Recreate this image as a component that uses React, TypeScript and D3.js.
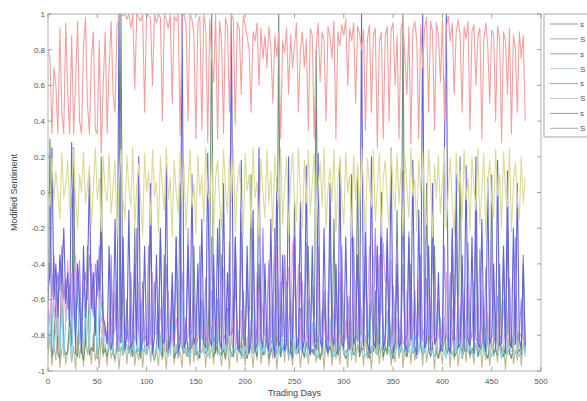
import * as d3 from 'd3'

// one value every 2 trading days, day 0 .. 484
const DAY_STEP = 2

const sentRed = [
  .80,.75,.33,.70,.60,.33,.92,.45,.33,.95,
  .55,.33,.88,.33,.62,.96,.40,.33,.82,.98,
  .50,.33,.75,.90,.35,.33,.85,.22,.60,.90,
  .33,.70,.96,.55,.45,.93,.98,1,.99,1,
  .97,1,.92,1,.58,1,.98,.96,1,.45,
  1,.99,.97,.60,1,.95,1,.98,.40,1,
  .97,.92,1,.50,.99,.96,1,.32,.98,1,
  .93,.40,1,.97,.88,.30,.95,.99,.35,1,
  .92,.28,.97,.75,.62,1,.30,.96,.85,.33,
  .98,.93,.45,1,.97,.38,.95,.92,.55,.99,
  .94,.87,.80,.45,.90,.85,.95,.60,.92,.75,
  .88,.70,.93,.82,.50,.88,.76,.90,.30,.85,
  .78,.92,.55,.88,.70,.82,.95,.45,.80,.90,
  .70,.86,.35,.92,.88,.30,.82,.95,.62,.90,
  .85,.40,.93,.88,.75,.96,.30,.90,.82,.94,
  .88,.97,.60,.92,.85,.95,.50,.93,.89,.80,
  .91,.35,.86,.94,.45,.88,.92,.25,.84,.90,
  .30,.87,.93,.40,.91,.95,.60,.88,.30,.92,
  .98,.75,.55,.93,.27,.90,.96,.85,.30,.94,
  .70,.92,.98,.45,.96,.90,.35,.95,.88,.62,
  .97,.40,.92,.99,.85,.95,.55,.90,.97,.88,
  .45,.93,.86,.96,.35,.90,.94,.60,.88,.92,
  .30,.85,.95,.82,.50,.91,.88,.40,.93,.86,
  .28,.90,.85,.55,.92,.33,.88,.80,.45,.90,
  .75,.88,.40
]

const sentYellow = [
  .02,-.08,.20,-.04,.12,.00,-.15,.22,-.03,.05,
  .18,-.10,.02,.24,-.05,-.20,.10,.00,.23,-.06,
  .04,.15,-.18,.02,.25,-.04,.08,-.22,.20,.01,
  -.05,.22,-.12,.03,.18,-.25,.06,.24,-.03,-.15,
  .21,.02,-.08,.25,-.20,.04,.16,-.05,-.24,.22,
  .00,.12,-.18,.24,-.02,.06,-.22,.20,.03,-.10,
  .25,-.04,.08,-.25,.18,.00,-.12,.23,-.06,.15,
  -.20,.02,.24,-.08,.05,-.23,.21,-.02,.10,-.17,
  .25,.00,-.06,.22,-.25,.08,.18,-.04,-.20,.24,
  .02,-.12,.20,-.05,.25,-.22,.04,.16,-.08,-.24,
  .22,.01,.10,-.20,.25,-.03,.06,-.25,.19,.00,
  -.14,.24,-.06,.12,-.22,.21,.02,-.09,.25,-.18,
  .04,.20,-.24,.06,.23,-.04,-.16,.25,.00,-.20,
  .18,-.06,.24,-.12,.05,.22,-.25,.03,.17,-.08,
  .25,-.20,.02,.14,-.05,.24,-.22,.06,.20,-.03,
  -.18,.23,.00,.10,-.25,.21,-.04,.16,-.12,.25,
  .02,-.22,.19,.05,-.08,.24,-.16,.03,.22,-.25,
  .08,.18,-.04,-.20,.25,.01,-.10,.22,-.06,.14,
  -.24,.20,.03,-.14,.25,-.02,.07,-.22,.18,.00,
  .23,-.08,-.18,.24,.04,-.25,.16,-.03,.21,-.12,
  .05,.25,-.20,.02,.19,-.06,-.24,.22,.00,.12,
  -.16,.24,-.04,.08,-.22,.20,.03,-.10,.25,-.18,
  .01,.22,-.25,.06,.18,-.05,-.14,.24,-.02,.10,
  -.20,.23,.00,-.08,.25,-.22,.05,.17,-.04,-.15,
  .20,-.06,.08
]

const sentBlue = [
  -.55,-.45,.25,-.60,-.40,-.70,-.35,-.50,-.20,-.62,
  -.45,-.75,.28,-.55,-.85,-.40,-.60,-.90,-.30,-.70,
  -.50,.10,-.65,-.45,-.80,-.38,-.55,-.20,-.70,-.75,
  -.85,-.30,-.88,-.82,-.15,-.86,1,-.84,-.25,-.88,
  -.80,-.10,-.87,-.83,-.40,-.85,.20,-.89,-.82,-.30,
  -.86,-.84,.05,-.90,-.81,-.35,-.87,-.20,-.85,-.83,
  .15,-.88,-.82,-.45,-.86,-.25,-.90,-.84,1,-.87,
  -.83,-.30,-.88,.10,-.85,-.80,-.40,-.89,-.15,-.84,
  -.87,.22,-.82,-.86,-.35,-.90,-.20,-.83,-.88,.05,
  -.85,-.45,-.80,1,-.87,-.25,-.84,-.89,.18,-.82,
  -.86,-.30,-.90,-.83,-.10,-.88,-.85,.25,-.81,-.87,
  -.40,-.84,-.89,-.15,-.82,-.92,.08,-.86,-.83,-.35,
  -.88,-.85,.20,-.90,-.80,-.25,-.87,-.84,-.05,-.89,
  -.82,.15,-.86,-.91,-.30,-.84,-.88,.22,-.83,-.87,
  -.20,-.85,-.89,.05,-.82,-.86,-.40,-.90,.18,-.84,
  -.87,-.25,-.83,-.88,.10,-.85,-.81,-.35,-.89,1,
  -.86,-.15,-.84,-.90,.20,-.83,-.87,-.30,-.85,.00,
  -.88,-.82,-.20,-.86,.25,-.90,-.84,-.40,-.87,-.83,
  .12,-.85,-.89,-.25,-.82,.18,-.86,-.91,-.10,-.84,
  1,-.87,-.83,-.30,-.88,.05,-.85,-.82,-.45,-.89,
  -.84,.22,1,-.86,-.90,-.20,-.83,.10,-.87,-.85,
  -.35,-.88,.15,-.82,-.86,-.25,-.90,.20,-.84,-.87,
  -.15,-.83,-.89,.08,-.85,-.81,-.40,-.88,.18,-.86,
  -.84,-.30,-.90,.12,-.83,-.87,-.20,-.85,.05,-.82,
  -.88,-.40,-.86
]

const sentPurple = [
  -.50,-.40,-.58,-.35,-.62,-.45,-.55,-.30,-.60,-.48,
  -.65,-.52,-.70,-.42,-.75,-.58,-.38,-.80,-.55,-.45,
  -.60,-.35,-.52,-.68,-.40,-.58,-.30,-.62,-.72,-.80,
  -.78,-.85,-.35,-.80,-.76,-.50,-.83,-.79,-.25,-.81,
  -.77,-.84,-.45,-.79,-.82,-.20,-.78,-.85,-.55,-.80,
  -.83,-.30,-.79,-.86,-.50,-.77,-.82,-.22,-.80,-.84,
  -.40,-.78,-.85,-.60,-.81,-.25,-.79,-.83,-.45,-.77,
  -.84,-.20,-.80,-.78,-.55,-.86,-.82,-.30,-.79,-.85,
  -.48,-.81,-.77,-.25,-.84,-.80,-.60,-.78,-.35,-.83,
  -.79,-.86,-.28,-.80,-.75,-.50,-.82,-.85,-.22,-.78,
  -.81,-.45,-.84,-.79,-.30,-.86,-.76,-.55,-.83,-.20,
  -.80,-.78,-.40,-.85,-.82,-.25,-.79,-.87,-.50,-.81,
  -.35,-.83,-.78,-.60,-.84,-.22,-.80,-.86,-.45,-.79,
  -.82,-.28,-.85,-.77,-.52,-.81,-.84,-.30,-.78,-.86,
  -.55,-.80,-.83,-.20,-.79,-.85,-.42,-.82,-.77,-.30,
  -.84,-.81,-.58,-.78,-.86,-.25,-.80,-.83,-.48,-.79,
  -.85,-.32,-.82,-.78,-.60,-.84,-.20,-.81,-.86,-.45,
  -.79,-.83,-.28,-.80,-.85,-.52,-.78,-.30,-.84,-.81,
  -.40,-.86,-.79,-.22,-.83,-.80,-.55,-.85,-.78,-.35,
  -.82,-.84,-.48,-.79,-.86,-.25,-.81,-.83,-.60,-.78,
  -.85,-.30,-.80,-.84,-.45,-.79,-.86,-.20,-.82,-.78,
  -.55,-.83,-.80,-.28,-.85,-.79,-.50,-.82,-.84,-.32,
  -.78,-.86,-.42,-.81,-.83,-.22,-.80,-.85,-.58,-.79,
  -.84,-.35,-.82,-.78,-.48,-.86,-.80,-.25,-.83,-.79,
  -.60,-.82,-.85
]

const sentCyan = [
  -.70,-.85,-.60,-.90,-.75,-.55,-.88,-.65,-.92,-.72,
  -.58,-.80,-.95,-.62,-.78,-.50,-.85,-.68,-.90,-.60,
  -.75,-.88,-.55,-.70,-.65,-.92,-.60,-.72,-.68,-.85,
  -.90,-.86,-.70,-.89,-.92,-.84,-.88,-.65,-.91,-.87,
  -.85,-.90,-.88,-.70,-.92,-.86,-.89,-.62,-.90,-.87,
  -.91,-.84,-.72,-.89,-.93,-.86,-.88,-.90,-.66,-.87,
  -.89,-.92,-.85,-.74,-.90,-.88,-.91,-.86,-.60,-.89,
  -.87,-.90,-.93,-.70,-.88,-.85,-.91,-.89,-.64,-.90,
  -.86,-.92,-.88,-.75,-.90,-.87,-.62,-.91,-.89,-.85,
  -.90,-.68,-.88,-.92,-.86,-.89,-.72,-.90,-.87,-.93,
  -.85,-.91,-.66,-.88,-.90,-.86,-.89,-.70,-.92,-.87,
  -.89,-.85,-.90,-.64,-.88,-.93,-.86,-.91,-.74,-.88,
  -.90,-.87,-.92,-.86,-.68,-.89,-.91,-.85,-.88,-.62,
  -.88,-.92,-.86,-.90,-.73,-.87,-.89,-.93,-.85,-.66,
  -.91,-.88,-.86,-.70,-.90,-.92,-.87,-.89,-.64,-.86,
  -.90,-.88,-.93,-.85,-.72,-.89,-.91,-.86,-.88,-.68,
  -.87,-.92,-.89,-.63,-.90,-.86,-.88,-.91,-.75,-.87,
  -.89,-.85,-.66,-.90,-.93,-.87,-.88,-.70,-.91,-.86,
  -.88,-.92,-.86,-.89,-.62,-.90,-.87,-.93,-.85,-.72,
  -.91,-.88,-.86,-.68,-.90,-.89,-.92,-.87,-.64,-.88,
  -.86,-.90,-.93,-.74,-.88,-.91,-.85,-.89,-.66,-.87,
  -.92,-.88,-.70,-.90,-.86,-.89,-.93,-.62,-.87,-.91,
  -.88,-.85,-.90,-.72,-.89,-.92,-.86,-.68,-.90,-.87,
  -.93,-.88,-.64,-.91,-.86,-.89,-.90,-.75,-.87,-.92,
  -.88,-.70,-.90
]

const sentGreen = [
  -.88,.30,-.92,-.85,-.60,-.90,-.93,-.40,-.87,-.91,
  -.89,-.70,-.86,.25,-.90,-.92,-.55,-.88,-.94,-.85,
  -.30,-.91,-.87,-.89,-.65,-.93,-.86,.20,-.90,-.88,
  -.92,-.87,-.45,-.90,-.93,-.86,-.89,1,-.91,-.88,
  -.60,-.90,-.86,-.92,-.20,-.89,-.87,-.93,-.50,-.88,
  -.91,-.86,-.10,-.90,-.94,-.87,-.65,-.89,-.92,-.35,
  -.88,-.90,-.86,-.55,-.93,-.89,-.91,.05,-.87,-.90,
  -.70,-.92,-.88,-.86,-.30,-.91,-.89,-.93,-.60,-.87,
  -.90,-.88,-.45,1,-.92,-.86,-.89,-.15,-.91,-.88,
  -.93,-.65,-.87,-.90,-.92,-.25,-.88,-.86,-.91,-.55,
  -.89,-.93,-.87,.10,-.90,-.88,-.92,-.40,-.86,-.91,
  -.88,-.70,-.93,-.89,-.87,-.20,-.90,1,-.92,-.86,
  -.89,-.50,-.91,-.88,-.93,-.05,-.87,-.90,-.65,-.89,
  -.92,-.86,-.30,-.90,-.88,-.91,.80,-.87,-.93,-.89,
  -.60,-.88,-.90,-.86,-.92,-.15,-.89,-.91,-.87,-.45,
  -.90,-.93,-.88,-.70,-.86,-.91,-.89,.15,-.92,-.87,
  -.88,-.35,-.90,-.93,-.86,-.89,-.55,-.91,-.88,-.20,
  -.92,-.87,-.90,-.65,-.89,-.93,-.86,-.10,-.91,-.88,
  1,-.89,-.92,-.87,-.40,-.90,-.88,-.93,-.60,-.86,
  -.91,-.89,.05,-.88,-.92,-.87,-.30,-.90,-.93,-.86,
  -.89,-.70,-.91,-.88,-.87,-.25,-.92,-.90,-.86,.20,
  -.93,-.88,-.89,-.50,-.91,-.87,-.90,-.15,-.92,-.88,
  -.86,-.65,-.89,-.93,-.87,.10,-.90,-.88,-.91,-.40,
  -.88,-.92,-.86,-.20,-.89,-.93,-.87,-.60,-.90,-.88,
  -.91,-.35,-.89
]

const sentOlive = [
  -.92,-.80,-.97,-.85,-.94,-.75,-.98,-.88,-.82,-.96,
  -.90,-.78,-.95,-.86,-.99,-.80,-.93,-.84,-.97,-.76,
  -.91,-.83,-.96,-.79,-.94,-.87,-.98,-.81,-.92,-.85,
  -.97,-.77,-.93,-.88,-.95,-.82,-.99,-.86,-.91,-.79,
  -.96,-.84,-.92,-.78,-.97,-.87,-.94,-.81,-.98,-.85,
  -.90,-.76,-.95,-.83,-.93,-.88,-.97,-.80,-.94,-.86,
  -.99,-.82,-.91,-.77,-.96,-.85,-.93,-.89,-.98,-.79,
  -.92,-.84,-.97,-.81,-.95,-.76,-.94,-.87,-.90,-.83,
  -.98,-.80,-.93,-.86,-.96,-.78,-.91,-.88,-.97,-.82,
  -.94,-.85,-.99,-.79,-.92,-.87,-.95,-.77,-.93,-.84,
  -.97,-.81,-.90,-.86,-.98,-.83,-.94,-.78,-.96,-.88,
  -.91,-.80,-.97,-.85,-.93,-.76,-.99,-.87,-.92,-.82,
  -.95,-.79,-.94,-.88,-.97,-.84,-.91,-.81,-.98,-.86,
  -.93,-.77,-.96,-.83,-.90,-.87,-.95,-.80,-.94,-.85,
  -.99,-.82,-.92,-.78,-.97,-.86,-.93,-.84,-.96,-.79,
  -.91,-.88,-.98,-.81,-.94,-.76,-.95,-.85,-.92,-.83,
  -.97,-.80,-.93,-.87,-.99,-.82,-.90,-.78,-.96,-.86,
  -.94,-.84,-.91,-.79,-.97,-.88,-.95,-.81,-.93,-.77,
  -.98,-.85,-.92,-.83,-.96,-.80,-.94,-.87,-.90,-.82,
  -.97,-.78,-.95,-.86,-.91,-.84,-.99,-.81,-.93,-.88,
  -.96,-.79,-.92,-.85,-.98,-.77,-.94,-.83,-.97,-.86,
  -.90,-.82,-.95,-.80,-.93,-.88,-.96,-.84,-.91,-.78,
  -.98,-.86,-.94,-.81,-.97,-.83,-.92,-.87,-.95,-.79,
  -.93,-.85,-.99,-.82,-.91,-.76,-.96,-.88,-.94,-.80,
  -.97,-.84,-.92
]

const sentPink = [
  -.60,-.75,-.45,-.70,-.55,-.80,-.40,-.65,-.50,-.72,
  -.38,-.62,-.45,-.70,-.35,-.58,-.48,-.75,-.42,-.60,
  -.52,-.68,-.40,-.55,-.72,-.45,-.65,-.78,-.82,-.76,
  -.84,-.72,-.80,-.86,-.55,-.82,-.78,-.85,-.70,-.83,
  -.79,-.86,-.60,-.81,-.84,-.77,-.50,-.83,-.80,-.86,
  -.74,-.82,-.85,-.45,-.80,-.78,-.84,-.65,-.81,-.87,
  -.80,-.55,-.83,-.79,-.86,-.70,-.82,-.40,-.84,-.78,
  -.85,-.81,-.60,-.79,-.83,-.86,-.48,-.80,-.82,-.72,
  -.84,-.78,-.86,-.55,-.81,-.83,-.68,-.79,-.85,-.42,
  -.80,-.84,-.75,-.82,-.58,-.86,-.79,-.83,-.66,-.81,
  -.78,-.50,-.84,-.80,-.72,-.85,-.45,-.82,-.79,-.62,
  -.83,-.70,-.38,-.81,-.55,-.78,-.30,-.66,-.45,-.80,
  -.35,-.60,-.42,-.75,-.28,-.55,-.68,-.40,-.82,-.50,
  -.79,-.84,-.60,-.81,-.86,-.70,-.83,-.48,-.80,-.85,
  -.75,-.82,-.55,-.79,-.84,-.66,-.81,-.86,-.45,-.80,
  -.83,-.72,-.85,-.58,-.79,-.82,-.50,-.84,-.78,-.65,
  -.81,-.45,-.70,-.30,-.62,-.40,-.25,-.55,-.35,-.68,
  -.28,-.50,-.42,-.72,-.38,-.80,-.60,-.84,-.79,-.70,
  -.85,-.82,-.55,-.80,-.86,-.68,-.83,-.78,-.48,-.84,
  -.81,-.75,-.85,-.60,-.79,-.83,-.52,-.86,-.80,-.70,
  -.84,-.78,-.45,-.82,-.86,-.65,-.80,-.83,-.58,-.79,
  -.85,-.72,-.81,-.50,-.84,-.78,-.86,-.62,-.80,-.83,
  -.55,-.82,-.79,-.68,-.85,-.40,-.81,-.84,-.72,-.80,
  -.86,-.60,-.83,-.79,-.48,-.85,-.82,-.70,-.84,-.78,
  -.81,-.65,-.83
]

// only the first glyph of each legend entry is visible in the window
const legendLabels = ['s', 'S', 's', 'S', 's', 'S', 's', 'S']
const legendColors = ['#9a9a9a', '#a8a8a8', '#a4a4a4', '#a9d4c4', '#a0a0a8', '#c8c8c8', '#a09cb0', '#a8a8a8']

const xTicks = [0, 50, 100, 150, 200, 250, 300, 350, 400, 450, 500]
const yTicks = [-1, -0.8, -0.6, -0.4, -0.2, 0, 0.2, 0.4, 0.6, 0.8, 1]

const W = 587
const H = 401
const PLOT = { left: 48, right: 541, top: 14, bottom: 371 }

// draw order: bottom layers first
const SERIES = [
  { values: sentOlive, color: '#bdb894' },
  { values: sentGreen, color: '#708f7c' },
  { values: sentCyan, color: '#86d2ee' },
  { values: sentPink, color: '#e2a6dc' },
  { values: sentPurple, color: '#a98cec' },
  { values: sentBlue, color: '#6464dc' },
  { values: sentYellow, color: '#dcda98' },
  { values: sentRed, color: '#f5a0a0' },
]

export default function App() {
  const x = d3.scaleLinear().domain([0, 500]).range([PLOT.left, PLOT.right])
  const y = d3.scaleLinear().domain([-1, 1]).range([PLOT.bottom, PLOT.top])

  const line = d3.line<number>()
    .x((_, i) => x(i * DAY_STEP))
    .y(d => y(d))

  const tickLen = 4
  const fmt = (v: number) => (Math.abs(v) < 1e-9 ? '0' : String(+v.toFixed(1)))

  return (
    <div style={{ position: 'fixed', left: 0, top: 0, width: W, height: H, background: '#fff' }}>
      <svg width={W} height={H} style={{ display: 'block', fontFamily: '"Liberation Sans", Arial, sans-serif' }}>
        <defs>
          <filter id="soft" x="-5%" y="-5%" width="110%" height="110%">
            <feGaussianBlur stdDeviation="0.35" />
          </filter>
        </defs>
        <rect x={0} y={0} width={W} height={H} fill="#fff" />

        {/* series */}
        <g fill="none" strokeWidth={1.1} strokeLinejoin="round" filter="url(#soft)">
          {SERIES.map((s, i) => (
            <path key={i} d={line(s.values) ?? ''} stroke={s.color} />
          ))}
        </g>

        {/* axes box */}
        <rect
          x={PLOT.left}
          y={PLOT.top}
          width={PLOT.right - PLOT.left}
          height={PLOT.bottom - PLOT.top}
          fill="none"
          stroke="#b4b4b4"
          strokeWidth={1}
        />

        {/* x ticks */}
        {xTicks.map(t => (
          <g key={'x' + t}>
            <line x1={x(t)} x2={x(t)} y1={PLOT.bottom} y2={PLOT.bottom - tickLen} stroke="#888" strokeWidth={0.8} />
            <line x1={x(t)} x2={x(t)} y1={PLOT.top} y2={PLOT.top + tickLen} stroke="#888" strokeWidth={0.8} />
            <text x={x(t)} y={PLOT.bottom + 13} textAnchor="middle" fontSize={8} fill="#555">{t}</text>
          </g>
        ))}

        {/* y ticks */}
        {yTicks.map(t => (
          <g key={'y' + t}>
            <line x1={PLOT.left} x2={PLOT.left + tickLen} y1={y(t)} y2={y(t)} stroke="#888" strokeWidth={0.8} />
            <line x1={PLOT.right} x2={PLOT.right - tickLen} y1={y(t)} y2={y(t)} stroke="#888" strokeWidth={0.8} />
            <text x={PLOT.left - 3} y={y(t)} dy="0.35em" textAnchor="end" fontSize={8} fill="#555">{fmt(t)}</text>
          </g>
        ))}

        <text x={(PLOT.left + PLOT.right) / 2} y={H - 5} textAnchor="middle" fontSize={9} fill="#444">Trading Days</text>
        <text
          transform={`translate(17, ${(PLOT.top + PLOT.bottom) / 2}) rotate(-90)`}
          textAnchor="middle"
          fontSize={9}
          fill="#444"
        >
          Modified Sentiment
        </text>

        {/* legend, cut off by the window edge */}
        <g>
          <rect x={544} y={14} width={70} height={123} fill="#fff" stroke="#a8a8a8" strokeWidth={1} />
          {legendLabels.map((lab, i) => {
            const ly = 24 + i * 14.9
            return (
              <g key={i}>
                <line x1={550} x2={578} y1={ly} y2={ly} stroke={legendColors[i]} strokeWidth={1} />
                <text x={580} y={ly} dy="0.35em" fontSize={8} fill="#555">{lab}</text>
              </g>
            )
          })}
        </g>
      </svg>
    </div>
  )
}
